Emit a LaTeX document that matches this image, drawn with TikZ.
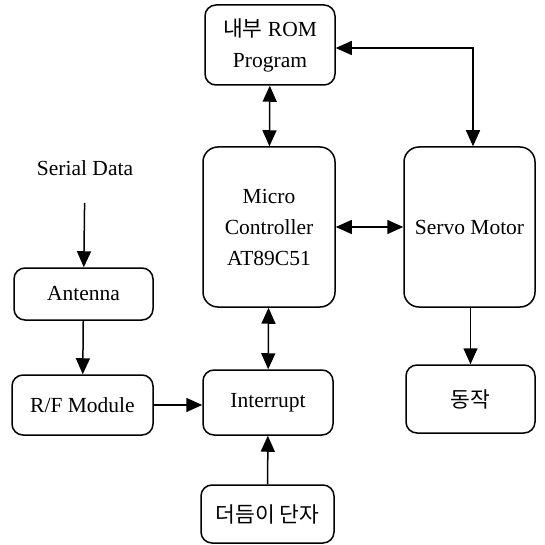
\documentclass[tikz,border=0pt]{standalone}
\usepackage{fontspec}
\setmainfont{Liberation Serif}
\newfontfamily\kr{Noto Sans CJK KR}
\usetikzlibrary{arrows.meta}
\begin{document}
\begin{tikzpicture}[x=1pt,y=-1pt,
  box/.style={draw,line width=1.5pt,rounded corners=11pt,align=center,inner sep=0pt,
    font=\fontsize{21.5}{31}\selectfont},
  arr/.style={line width=1.5pt,-{Triangle[length=16pt,width=14pt]}},
  darr/.style={line width=1.5pt,{Triangle[length=16pt,width=14pt]}-{Triangle[length=16pt,width=14pt]}}]
\useasboundingbox (0,0) rectangle (544,545);
\node[box,minimum width=130pt,minimum height=80pt] (rom) at (270,45) {{\kr 내부} ROM\\Program};
\node[box,minimum width=132pt,minimum height=160pt,rounded corners=15pt] (mc) at (269,227) {Micro\\Controller\\AT89C51};
\node[box,minimum width=131pt,minimum height=160pt,rounded corners=15pt] (sv) at (469.5,227) {Servo\ Motor};
\node[box,minimum width=130pt,minimum height=65pt] (int) at (268,402.5) {Interrupt};
\node[box,minimum width=129pt,minimum height=68pt] (act) at (470.5,399) {\kr 동작};
\node[box,minimum width=139pt,minimum height=52pt] (ant) at (83.5,294) {Antenna};
\node[box,minimum width=141pt,minimum height=60pt] (rf) at (82.5,405) {R/F\ Module};
\node[box,minimum width=133pt,minimum height=58pt] (tm) at (267.5,514) {\kr 더듬이 단자};
\node[font=\fontsize{21.5}{31}\selectfont,inner sep=0pt] (sd) at (85,168) {Serial\ Data};
\coordinate (corner) at (473,48);
\draw[arr,shorten <=27pt] (sd) -- (ant);
\draw[arr] (ant) -- (rf);
\draw[arr] (rf.east) -- (rf.east -| int.west);
\draw[arr] (tm) -- (int);
\draw[darr] (mc) -- (int);
\draw[darr] (rom) -- (mc);
\draw[darr] (mc) -- (sv);
\draw[arr] (sv.south -| act.north) -- (act);
\draw[darr] (rom.east |- corner) -- (corner) -- (corner |- sv.north);
\end{tikzpicture}
\end{document}
